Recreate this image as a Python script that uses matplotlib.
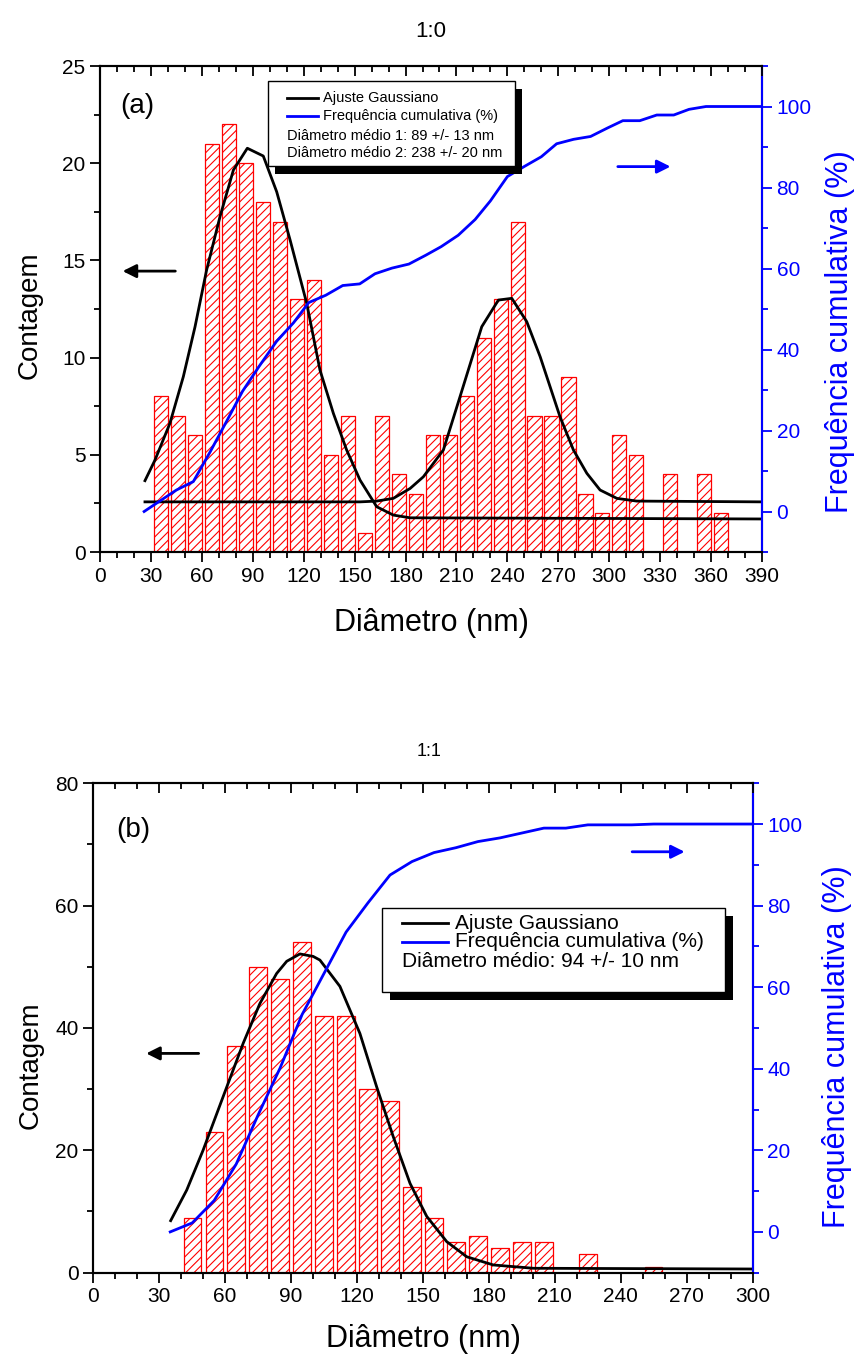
import numpy as np
import matplotlib
matplotlib.use("Agg")
import matplotlib.pyplot as plt
from matplotlib.patches import Rectangle
from matplotlib.ticker import MultipleLocator

plt.rcParams['font.family'] = ['Liberation Sans', 'DejaVu Sans']
plt.rcParams['hatch.linewidth'] = 0.8

# ---- panel (a) 1:0 ----
centers_a = [36, 46, 56, 66, 76, 86, 96, 106, 116, 126, 136, 146, 156, 166, 176, 186, 196,
             206, 216, 226, 236, 246, 256, 266, 276, 286, 296, 306, 316, 326, 336, 346, 356, 366]
counts_a = [8, 7, 6, 21, 22, 20, 18, 17, 13, 14, 5, 7, 1, 7, 4, 3, 6,
            6, 8, 11, 13, 17, 7, 7, 9, 3, 2, 6, 5, 0, 4, 0, 4, 2]

cum_x_a = [26, 36, 45, 55, 65, 75, 84, 94, 104, 114, 123, 133, 143, 153, 162, 172, 182, 192,
           201, 211, 221, 230, 240, 250, 260, 269, 279, 289, 299, 308, 318, 328, 338, 347, 357, 390]
cum_y_a = [0, 2.8, 5.3, 7.4, 14.8, 22.6, 29.7, 36.0, 42.0, 46.6, 51.6, 53.4, 55.8, 56.2, 58.7, 60.1,
           61.1, 63.3, 65.4, 68.2, 72.1, 76.7, 82.7, 85.2, 87.6, 90.8, 91.9, 92.6, 94.7, 96.5, 96.5,
           97.9, 97.9, 99.3, 100, 100]

fit1_x_a = [26.5, 32.4, 41.2, 49.1, 56, 62.8, 70.7, 78.6, 86.8, 96.2, 104.1, 112, 121.8, 129.6,
            137.5, 145.3, 153.2, 163, 172.8, 182.7, 390]
fit1_y_a = [3.67, 4.73, 6.62, 9.02, 11.59, 14.5, 17.25, 19.65, 20.77, 20.37, 18.53, 16.05, 12.79, 9.36,
            7.13, 5.25, 3.7, 2.33, 1.9, 1.76, 1.70]

fit2_x_a = [26.5, 153.2, 163, 172.8, 182.7, 190.5, 202.3, 212.1, 224.9, 234.7, 242.6, 251.4, 259.3,
            271, 278.9, 286.8, 294.6, 304.5, 316.2, 390]
fit2_y_a = [2.58, 2.58, 2.62, 2.76, 3.27, 3.87, 5.25, 7.99, 11.59, 12.96, 13.05, 11.85, 10.05,
            6.96, 5.25, 4.05, 3.19, 2.76, 2.62, 2.58]

legend_a = ["Ajuste Gaussiano", "Frequência cumulativa (%)",
            "Diâmetro médio 1: 89 +/- 13 nm", "Diâmetro médio 2: 238 +/- 20 nm"]

# ---- panel (b) 1:1 ----
centers_b = [45, 55, 65, 75, 85, 95, 105, 115, 125, 135, 145, 155, 165, 175, 185, 195, 205,
             215, 225, 235, 245, 255]
counts_b = [9, 23, 37, 50, 48, 54, 42, 42, 30, 28, 14, 9, 5, 6, 4, 5, 5, 0, 3, 0, 0, 1]

cum_x_b = [35, 45, 55, 65, 75, 85, 95, 105, 115, 125, 135, 145, 155, 165, 175, 185, 195,
           205, 215, 225, 235, 245, 255, 300]
cum_y_b = [0, 2.2, 7.7, 16.6, 28.7, 40.2, 53.3, 63.4, 73.5, 80.7, 87.5, 90.8, 93.0, 94.2, 95.7,
           96.6, 97.8, 99.0, 99.0, 99.8, 99.8, 99.8, 100, 100]

fit_x_b = [35.2, 42.5, 50, 59.1, 68.2, 75.8, 83.4, 88, 94, 100, 103.1, 112.2, 121.3, 128.9, 136.5,
           144.1, 151.7, 160.8, 169.9, 182, 200.2, 300]
fit_y_b = [8.5, 13.5, 20.06, 28.8, 37.5, 44, 48.9, 50.9, 52.1, 51.7, 51.1, 46.8, 39.1, 30.4, 22.2,
           14.6, 9.2, 5.07, 2.6, 1.26, 0.72, 0.6]

legend_b = ["Ajuste Gaussiano", "Frequência cumulativa (%)", "Diâmetro médio: 94 +/- 10 nm"]

BLUE = '#0000ff'
TICK_FS = 15
LABEL_FS = 22


def style_axes(ax, ax2, xmax, xmajor, ymax, ymajor, yminor):
    ax.set_xlim(0, xmax)
    ax.set_ylim(0, ymax)
    ax2.set_ylim(-10, 110)
    ax.xaxis.set_major_locator(MultipleLocator(xmajor))
    ax.xaxis.set_minor_locator(MultipleLocator(10))
    ax.yaxis.set_major_locator(MultipleLocator(ymajor))
    ax.yaxis.set_minor_locator(MultipleLocator(yminor))
    ax2.set_yticks([0, 20, 40, 60, 80, 100])
    ax2.yaxis.set_minor_locator(MultipleLocator(10))
    for s in ax.spines.values():
        s.set_linewidth(1.5)
    for s in ax2.spines.values():
        s.set_linewidth(1.5)
    ax2.spines['right'].set_color(BLUE)
    ax.tick_params(axis='x', which='both', direction='out', top=False, labelsize=TICK_FS, width=1.3)
    ax.tick_params(axis='y', which='both', direction='out', labelsize=TICK_FS, width=1.3)
    ax.tick_params(which='major', length=7)
    ax.tick_params(which='minor', length=4)
    ax2.tick_params(axis='y', which='both', direction='out', colors=BLUE, labelsize=TICK_FS, width=1.3)
    ax2.tick_params(which='major', length=7)
    ax2.tick_params(which='minor', length=4)
    # inward ticks on the top frame, no labels
    axt = ax.twiny()
    axt.set_xlim(0, xmax)
    axt.xaxis.set_major_locator(MultipleLocator(xmajor))
    axt.xaxis.set_minor_locator(MultipleLocator(10))
    axt.tick_params(axis='x', which='both', direction='in', labeltop=False, width=1.3, top=True)
    axt.tick_params(which='major', length=7)
    axt.tick_params(which='minor', length=4)
    axt.tick_params(axis='y', left=False, right=False, labelleft=False, labelright=False)
    for s in axt.spines.values():
        s.set_visible(False)


def draw_legend(ax, box, rows, fs, line_x, text_x, plain_x, shadow):
    x0, y0, x1, y1 = box
    ax.add_patch(Rectangle((x0 + shadow[0], y0 - shadow[1]), x1 - x0, y1 - y0, transform=ax.transAxes,
                           facecolor='black', edgecolor='none', zorder=20, clip_on=False))
    ax.add_patch(Rectangle((x0, y0), x1 - x0, y1 - y0, transform=ax.transAxes,
                           facecolor='white', edgecolor='black', lw=1, zorder=21, clip_on=False))
    colors = ['black', BLUE]
    for i, (label, ry) in enumerate(rows):
        if i < 2:
            ax.plot(line_x, [ry, ry], transform=ax.transAxes, color=colors[i], lw=2,
                    zorder=22, clip_on=False)
            ax.text(text_x, ry, label, transform=ax.transAxes, fontsize=fs, va='center',
                    ha='left', zorder=23)
        else:
            ax.text(plain_x, ry, label, transform=ax.transAxes, fontsize=fs, va='center',
                    ha='left', zorder=23)


def arrows(ax2, black, blue):
    ax2.annotate("", xy=(black[1], black[2]), xytext=(black[0], black[2]), xycoords='axes fraction',
                 arrowprops=dict(arrowstyle='-|>', color='black', lw=2, mutation_scale=20))
    ax2.annotate("", xy=(blue[1], blue[2]), xytext=(blue[0], blue[2]), xycoords='axes fraction',
                 arrowprops=dict(arrowstyle='-|>', color=BLUE, lw=2, mutation_scale=20))


fig = plt.figure(figsize=(8.56, 13.61), dpi=100)

# ---------------- panel (a) ----------------
ax = fig.add_axes([0.1168, 0.5944, 0.7734, 0.3571])
ax2 = ax.twinx()
ax.bar(centers_a, counts_a, width=8.3, facecolor='white', edgecolor='red', hatch='////',
       linewidth=0.9, zorder=2)
ax.plot(fit1_x_a, fit1_y_a, color='black', lw=2, zorder=3)
ax.plot(fit2_x_a, fit2_y_a, color='black', lw=2, zorder=3)
ax2.plot(cum_x_a, cum_y_a, color=BLUE, lw=2)
style_axes(ax, ax2, 390, 30, 25, 5, 2.5)
ax.set_xlabel("Diâmetro (nm)", fontsize=LABEL_FS, labelpad=16)
ax.set_ylabel("Contagem", fontsize=20)
ax.yaxis.set_label_coords(-0.086, 0.488)
ax2.set_ylabel("Frequência cumulativa (%)", fontsize=LABEL_FS, color=BLUE)
ax2.yaxis.set_label_coords(1.095, 0.453)
ax2.text(0.031, 0.918, "(a)", transform=ax.transAxes, fontsize=20, va='center', ha='left')
arrows(ax2, (0.118, 0.030, 0.578), (0.778, 0.866, 0.793))
rows_a = list(zip(legend_a, [0.9335, 0.8977, 0.8566, 0.8204]))
draw_legend(ax2, (0.254, 0.794, 0.627, 0.969), rows_a, 10.5, [0.2825, 0.329], 0.337, 0.282,
            (0.0105, 0.0165))
fig.text(0.503, 0.9765, "1:0", fontsize=16, ha='center', va='center')

# ---------------- panel (b) ----------------
bx = fig.add_axes([0.109, 0.0649, 0.7703, 0.3596])
bx2 = bx.twinx()
bx.bar(centers_b, counts_b, width=7.9, facecolor='white', edgecolor='red', hatch='////',
       linewidth=0.9, zorder=2)
bx.plot(fit_x_b, fit_y_b, color='black', lw=2, zorder=3)
bx2.plot(cum_x_b, cum_y_b, color=BLUE, lw=2)
style_axes(bx, bx2, 300, 30, 80, 20, 10)
bx.set_xlabel("Diâmetro (nm)", fontsize=LABEL_FS, labelpad=13)
bx.set_ylabel("Contagem", fontsize=20)
bx.yaxis.set_label_coords(-0.076, 0.424)
bx2.set_ylabel("Frequência cumulativa (%)", fontsize=LABEL_FS, color=BLUE)
bx2.yaxis.set_label_coords(1.105, 0.461)
bx2.text(0.035, 0.905, "(b)", transform=bx.transAxes, fontsize=20, va='center', ha='left')
arrows(bx2, (0.164, 0.076, 0.448), (0.813, 0.901, 0.860))
rows_b = list(zip(legend_b, [0.714, 0.676, 0.635]))
draw_legend(bx2, (0.438, 0.574, 0.958, 0.745), rows_b, 15, [0.4677, 0.5384], 0.548, 0.4677,
            (0.012, 0.0165))
fig.text(0.501, 0.4475, "1:1", fontsize=13, ha='center', va='center')

fig.savefig("out.png", dpi=100)
